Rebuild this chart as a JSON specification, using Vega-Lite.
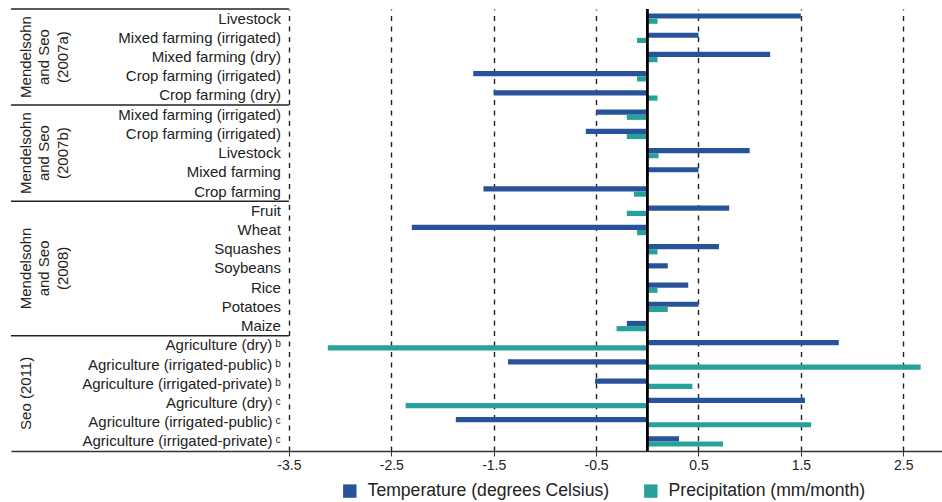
{
  "$schema": "https://vega.github.io/schema/vega-lite/v6.json",
  "width": 932,
  "height": 442,
  "padding": {"left": 10, "top": 8, "right": 0, "bottom": 0},
  "background": "white",
  "config": {
    "view": {"stroke": null},
    "font": "Liberation Sans",
    "text": {"font": "Liberation Sans", "color": "#222222"}
  },
  "data": {
    "values": [
      {"row": 1, "group": "Mendelsohn\nand Seo\n(2007a)", "label": "Livestock", "series": "Temperature (degrees Celsius)", "value": 1.5},
      {"row": 1, "group": "Mendelsohn\nand Seo\n(2007a)", "label": "Livestock", "series": "Precipitation (mm/month)", "value": 0.1},
      {"row": 2, "group": "Mendelsohn\nand Seo\n(2007a)", "label": "Mixed farming (irrigated)", "series": "Temperature (degrees Celsius)", "value": 0.5},
      {"row": 2, "group": "Mendelsohn\nand Seo\n(2007a)", "label": "Mixed farming (irrigated)", "series": "Precipitation (mm/month)", "value": -0.1},
      {"row": 3, "group": "Mendelsohn\nand Seo\n(2007a)", "label": "Mixed farming (dry)", "series": "Temperature (degrees Celsius)", "value": 1.2},
      {"row": 3, "group": "Mendelsohn\nand Seo\n(2007a)", "label": "Mixed farming (dry)", "series": "Precipitation (mm/month)", "value": 0.1},
      {"row": 4, "group": "Mendelsohn\nand Seo\n(2007a)", "label": "Crop farming (irrigated)", "series": "Temperature (degrees Celsius)", "value": -1.7},
      {"row": 4, "group": "Mendelsohn\nand Seo\n(2007a)", "label": "Crop farming (irrigated)", "series": "Precipitation (mm/month)", "value": -0.1},
      {"row": 5, "group": "Mendelsohn\nand Seo\n(2007a)", "label": "Crop farming (dry)", "series": "Temperature (degrees Celsius)", "value": -1.5},
      {"row": 5, "group": "Mendelsohn\nand Seo\n(2007a)", "label": "Crop farming (dry)", "series": "Precipitation (mm/month)", "value": 0.1},
      {"row": 6, "group": "Mendelsohn\nand Seo\n(2007b)", "label": "Mixed farming (irrigated)", "series": "Temperature (degrees Celsius)", "value": -0.5},
      {"row": 6, "group": "Mendelsohn\nand Seo\n(2007b)", "label": "Mixed farming (irrigated)", "series": "Precipitation (mm/month)", "value": -0.2},
      {"row": 7, "group": "Mendelsohn\nand Seo\n(2007b)", "label": "Crop farming (irrigated)", "series": "Temperature (degrees Celsius)", "value": -0.6},
      {"row": 7, "group": "Mendelsohn\nand Seo\n(2007b)", "label": "Crop farming (irrigated)", "series": "Precipitation (mm/month)", "value": -0.2},
      {"row": 8, "group": "Mendelsohn\nand Seo\n(2007b)", "label": "Livestock", "series": "Temperature (degrees Celsius)", "value": 1.0},
      {"row": 8, "group": "Mendelsohn\nand Seo\n(2007b)", "label": "Livestock", "series": "Precipitation (mm/month)", "value": 0.11},
      {"row": 9, "group": "Mendelsohn\nand Seo\n(2007b)", "label": "Mixed farming", "series": "Temperature (degrees Celsius)", "value": 0.5},
      {"row": 9, "group": "Mendelsohn\nand Seo\n(2007b)", "label": "Mixed farming", "series": "Precipitation (mm/month)", "value": 0.01},
      {"row": 10, "group": "Mendelsohn\nand Seo\n(2007b)", "label": "Crop farming", "series": "Temperature (degrees Celsius)", "value": -1.6},
      {"row": 10, "group": "Mendelsohn\nand Seo\n(2007b)", "label": "Crop farming", "series": "Precipitation (mm/month)", "value": -0.13},
      {"row": 11, "group": "Mendelsohn\nand Seo\n(2008)", "label": "Fruit", "series": "Temperature (degrees Celsius)", "value": 0.8},
      {"row": 11, "group": "Mendelsohn\nand Seo\n(2008)", "label": "Fruit", "series": "Precipitation (mm/month)", "value": -0.2},
      {"row": 12, "group": "Mendelsohn\nand Seo\n(2008)", "label": "Wheat", "series": "Temperature (degrees Celsius)", "value": -2.3},
      {"row": 12, "group": "Mendelsohn\nand Seo\n(2008)", "label": "Wheat", "series": "Precipitation (mm/month)", "value": -0.1},
      {"row": 13, "group": "Mendelsohn\nand Seo\n(2008)", "label": "Squashes", "series": "Temperature (degrees Celsius)", "value": 0.7},
      {"row": 13, "group": "Mendelsohn\nand Seo\n(2008)", "label": "Squashes", "series": "Precipitation (mm/month)", "value": 0.1},
      {"row": 14, "group": "Mendelsohn\nand Seo\n(2008)", "label": "Soybeans", "series": "Temperature (degrees Celsius)", "value": 0.2},
      {"row": 14, "group": "Mendelsohn\nand Seo\n(2008)", "label": "Soybeans", "series": "Precipitation (mm/month)", "value": 0},
      {"row": 15, "group": "Mendelsohn\nand Seo\n(2008)", "label": "Rice", "series": "Temperature (degrees Celsius)", "value": 0.4},
      {"row": 15, "group": "Mendelsohn\nand Seo\n(2008)", "label": "Rice", "series": "Precipitation (mm/month)", "value": 0.1},
      {"row": 16, "group": "Mendelsohn\nand Seo\n(2008)", "label": "Potatoes", "series": "Temperature (degrees Celsius)", "value": 0.5},
      {"row": 16, "group": "Mendelsohn\nand Seo\n(2008)", "label": "Potatoes", "series": "Precipitation (mm/month)", "value": 0.2},
      {"row": 17, "group": "Mendelsohn\nand Seo\n(2008)", "label": "Maize", "series": "Temperature (degrees Celsius)", "value": -0.2},
      {"row": 17, "group": "Mendelsohn\nand Seo\n(2008)", "label": "Maize", "series": "Precipitation (mm/month)", "value": -0.3},
      {"row": 18, "group": "Seo (2011)", "label": "Agriculture (dry)\u2009ᵇ", "series": "Temperature (degrees Celsius)", "value": 1.87},
      {"row": 18, "group": "Seo (2011)", "label": "Agriculture (dry)\u2009ᵇ", "series": "Precipitation (mm/month)", "value": -3.12},
      {"row": 19, "group": "Seo (2011)", "label": "Agriculture (irrigated-public)\u2009ᵇ", "series": "Temperature (degrees Celsius)", "value": -1.36},
      {"row": 19, "group": "Seo (2011)", "label": "Agriculture (irrigated-public)\u2009ᵇ", "series": "Precipitation (mm/month)", "value": 2.67},
      {"row": 20, "group": "Seo (2011)", "label": "Agriculture (irrigated-private)\u2009ᵇ", "series": "Temperature (degrees Celsius)", "value": -0.51},
      {"row": 20, "group": "Seo (2011)", "label": "Agriculture (irrigated-private)\u2009ᵇ", "series": "Precipitation (mm/month)", "value": 0.44},
      {"row": 21, "group": "Seo (2011)", "label": "Agriculture (dry)\u2009ᶜ", "series": "Temperature (degrees Celsius)", "value": 1.54},
      {"row": 21, "group": "Seo (2011)", "label": "Agriculture (dry)\u2009ᶜ", "series": "Precipitation (mm/month)", "value": -2.36},
      {"row": 22, "group": "Seo (2011)", "label": "Agriculture (irrigated-public)\u2009ᶜ", "series": "Temperature (degrees Celsius)", "value": -1.87},
      {"row": 22, "group": "Seo (2011)", "label": "Agriculture (irrigated-public)\u2009ᶜ", "series": "Precipitation (mm/month)", "value": 1.6},
      {"row": 23, "group": "Seo (2011)", "label": "Agriculture (irrigated-private)\u2009ᶜ", "series": "Temperature (degrees Celsius)", "value": 0.31},
      {"row": 23, "group": "Seo (2011)", "label": "Agriculture (irrigated-private)\u2009ᶜ", "series": "Precipitation (mm/month)", "value": 0.74}
    ]
  },
  "layer": [
    {
      "layer": [
        {
          "mark": {"type": "bar"},
          "encoding": {
            "y": {"field": "row", "type": "ordinal", "axis": null, "scale": {"paddingInner": 0, "paddingOuter": 0}},
            "yOffset": {"field": "series", "type": "nominal", "scale": {"domain": ["Temperature (degrees Celsius)", "Precipitation (mm/month)"], "paddingInner": 0, "paddingOuter": 0.85}},
            "x": {
              "field": "value", "type": "quantitative",
              "scale": {"domain": [-6.214, 2.888], "nice": false, "zero": false},
              "axis": {
                "title": null,
                "values": [-3.5, -2.5, -1.5, -0.5, 0.5, 1.5, 2.5],
                "labelExpr": "datum.value < 0 ? '-' + format(-datum.value, '.1f') : format(datum.value, '.1f')",
                "grid": true, "gridDash": [5, 5.5], "gridColor": "#222222", "gridWidth": 1.4,
                "domainColor": "#333333", "domainWidth": 1.5,
                "tickColor": "#333333", "tickSize": 5,
                "labelFontSize": 14, "labelColor": "#222222", "labelFont": "Liberation Sans", "labelFlush": false
              }
            },
            "color": {
              "field": "series", "type": "nominal",
              "scale": {"domain": ["Temperature (degrees Celsius)", "Precipitation (mm/month)"], "range": ["#28539a", "#27a29b"]},
              "legend": {
                "title": null, "orient": "none", "direction": "horizontal",
                "legendX": 330, "legendY": 473,
                "symbolType": "square", "symbolSize": 180, "symbolStrokeWidth": 0,
                "labelFontSize": 17.6, "labelFont": "Liberation Sans", "labelColor": "#222222",
                "labelLimit": 400, "labelOffset": 9, "columnPadding": 32
              }
            }
          }
        },
        {
          "mark": {"type": "rule", "color": "#000000", "strokeWidth": 1.5},
          "encoding": {"x": {"datum": 0}}
        },
        {
          "transform": [{"filter": "datum.series == 'Temperature (degrees Celsius)'"}],
          "mark": {"type": "text", "align": "right", "baseline": "middle", "dx": -8, "fontSize": 15},
          "encoding": {
            "y": {"field": "row", "type": "ordinal"},
            "x": {"datum": -3.5},
            "text": {"field": "label"}
          }
        },
        {
          "transform": [
            {"filter": "datum.series == 'Temperature (degrees Celsius)'"},
            {"joinaggregate": [{"op": "min", "field": "row", "as": "first"}], "groupby": ["group"]},
            {"filter": "datum.row == datum.first"}
          ],
          "mark": {"type": "rule", "color": "#222222", "strokeWidth": 1.5},
          "encoding": {
            "y": {"field": "row", "type": "ordinal", "bandPosition": 0},
            "x": {"datum": -6.214},
            "x2": {"datum": -3.5}
          }
        }
      ]
    },
    {
      "mark": {"type": "text", "angle": 270, "align": "center", "baseline": "top", "lineBreak": "\n", "lineHeight": 18.5, "fontSize": 15},
      "encoding": {
        "y": {"aggregate": "mean", "field": "row", "type": "quantitative", "axis": null,
              "scale": {"domain": [0.5, 23.5], "reverse": true, "nice": false, "zero": false}},
        "x": {"datum": -6.136},
        "text": {"field": "group"}
      }
    }
  ],
  "resolve": {"scale": {"y": "independent"}}
}
